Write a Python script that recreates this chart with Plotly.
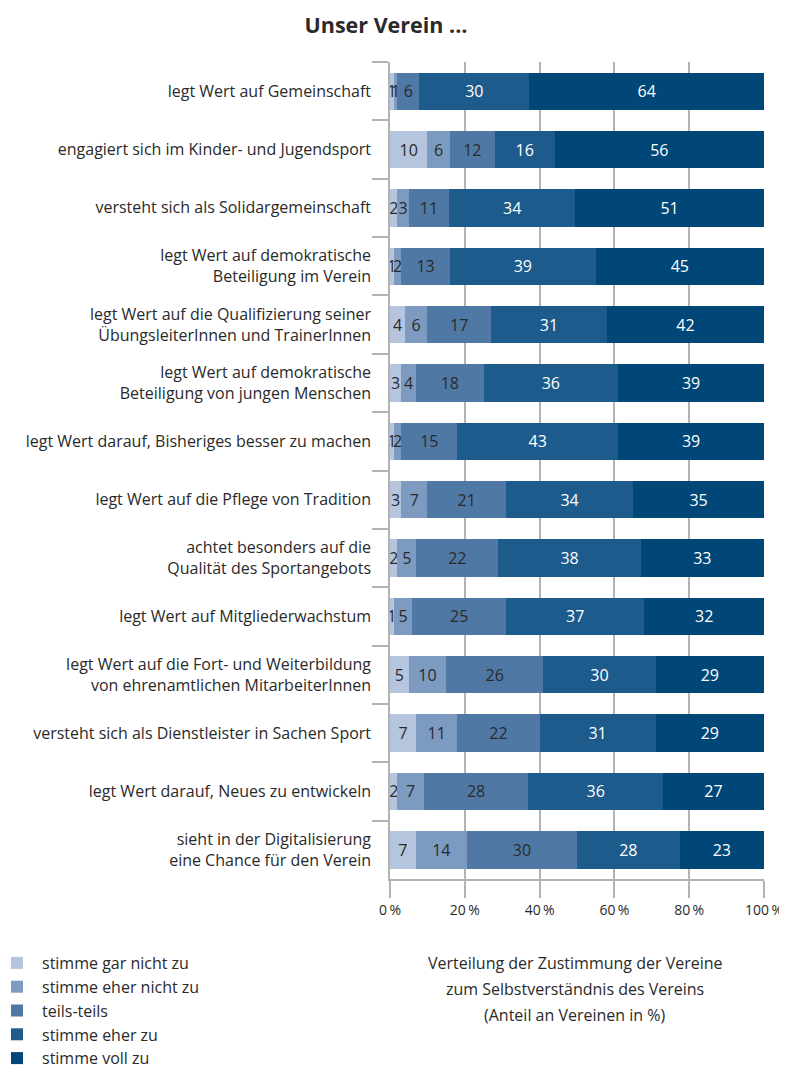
import plotly.graph_objects as go

categories = [
    "legt Wert auf Gemeinschaft",
    "engagiert sich im Kinder- und Jugendsport",
    "versteht sich als Solidargemeinschaft",
    "legt Wert auf demokratische<br>Beteiligung im Verein",
    "legt Wert auf die Qualifizierung seiner<br>ÜbungsleiterInnen und TrainerInnen",
    "legt Wert auf demokratische<br>Beteiligung von jungen Menschen",
    "legt Wert darauf, Bisheriges besser zu machen",
    "legt Wert auf die Pflege von Tradition",
    "achtet besonders auf die<br>Qualität des Sportangebots",
    "legt Wert auf Mitgliederwachstum",
    "legt Wert auf die Fort- und Weiterbildung<br>von ehrenamtlichen MitarbeiterInnen",
    "versteht sich als Dienstleister in Sachen Sport",
    "legt Wert darauf, Neues zu entwickeln",
    "sieht in der Digitalisierung<br>eine Chance für den Verein",
]

gar_nicht = [1, 10, 2, 1, 4, 3, 1, 3, 2, 1, 5, 7, 2, 7]
eher_nicht = [1, 6, 3, 2, 6, 4, 2, 7, 5, 5, 10, 11, 7, 14]
teils = [6, 12, 11, 13, 17, 18, 15, 21, 22, 25, 26, 22, 28, 30]
eher_zu = [30, 16, 34, 39, 31, 36, 43, 34, 38, 37, 30, 31, 36, 28]
voll_zu = [64, 56, 51, 45, 42, 39, 39, 35, 33, 32, 29, 29, 27, 23]

series_names = ["stimme gar nicht zu", "stimme eher nicht zu", "teils-teils",
                "stimme eher zu", "stimme voll zu"]
colors = ["#b5c5de", "#7d9bc1", "#4f78a4", "#1d5b8c", "#004677"]
text_colors = ["#2a2a2a", "#2a2a2a", "#2a2a2a", "white", "white"]

x_ticks = [0, 20, 40, 60, 80, 100]
x_ticktext = ["0\u2009%", "20\u2009%", "40\u2009%", "60\u2009%", "80\u2009%", "100\u2009%"]

FONT = "Open Sans"
# the page body adds an 8px margin; keep the figure inside the window
OFF = 8
W, H = 787 - OFF, 1076 - 2 * OFF
PLOT_LEFT, PLOT_RIGHT = 390, 764      # screen px
PLOT_TOP, PLOT_BOTTOM = 62, 879       # screen px
plot_w = PLOT_RIGHT - PLOT_LEFT
plot_h = PLOT_BOTTOM - PLOT_TOP


def px_(x_px):
    # screen pixel column -> paper coordinate
    return (x_px - PLOT_LEFT) / plot_w


def py(y_px):
    # screen pixel row -> paper coordinate
    return (PLOT_BOTTOM - y_px) / plot_h


fig = go.Figure()
for name, vals, col, tcol in zip(series_names, [gar_nicht, eher_nicht, teils, eher_zu, voll_zu],
                                 colors, text_colors):
    fig.add_trace(go.Bar(y=categories, x=vals, orientation="h", name=name,
                         legendgroup=name,
                         marker=dict(color=col, line=dict(width=0)),
                         text=vals, texttemplate="%{text}",
                         textposition="inside", insidetextanchor="middle", textangle=0,
                         textfont=dict(color=tcol, size=16, family=FONT)))

fig.update_layout(
    barmode="stack", barnorm="percent", bargap=0.36,
    width=W, height=H,
    margin=dict(l=PLOT_LEFT - OFF, r=W - (PLOT_RIGHT - OFF),
                t=PLOT_TOP - OFF, b=H - (PLOT_BOTTOM - OFF), autoexpand=False),
    plot_bgcolor="white", paper_bgcolor="white",
    font=dict(family=FONT, size=16, color="#2a2a2a"),
    uniformtext=dict(minsize=16, mode="show"),
    title=dict(text="<b>Unser Verein ...</b>", x=(386 - OFF) / W, xanchor="center",
               xref="container", yref="container",
               y=1 - (25 - OFF) / H, yanchor="middle", font=dict(size=21.5, color="#2a2a2a")),
    legend=dict(orientation="v", xref="paper", yref="paper", x=px_(-8), xanchor="left",
                y=py(946), yanchor="top", font=dict(size=16), itemwidth=40,
                tracegroupgap=2, traceorder="normal", itemclick=False),
    showlegend=True,
)

fig.update_xaxes(range=[0, 100], tickvals=x_ticks, ticktext=x_ticktext,
                 showgrid=True, gridcolor="#b3b3b3", gridwidth=1.5,
                 showline=True, linecolor="#b3b3b3", linewidth=1.5,
                 ticks="outside", ticklen=17, tickcolor="#b3b3b3", tickwidth=1.5,
                 tickfont=dict(size=14), zeroline=False, automargin=False)
fig.update_yaxes(autorange="reversed", showline=True, linecolor="#b3b3b3", linewidth=1.5,
                 ticks="outside", tickson="boundaries", ticklen=16,
                 tickcolor="#b3b3b3", tickwidth=1.5, showgrid=False,
                 ticklabelstandoff=14, tickfont=dict(size=16), automargin=False)

lines = ["Verteilung der Zustimmung der Vereine",
         "zum Selbstverständnis des Vereins",
         "(Anteil an Vereinen in %)"]
for i, line in enumerate(lines):
    fig.add_annotation(text=line, xref="paper", yref="paper",
                       x=px_(575), y=py(963 + 26 * i),
                       showarrow=False, xanchor="center", yanchor="middle",
                       font=dict(size=16, color="#2a2a2a"))

fig.write_html("out.html")
